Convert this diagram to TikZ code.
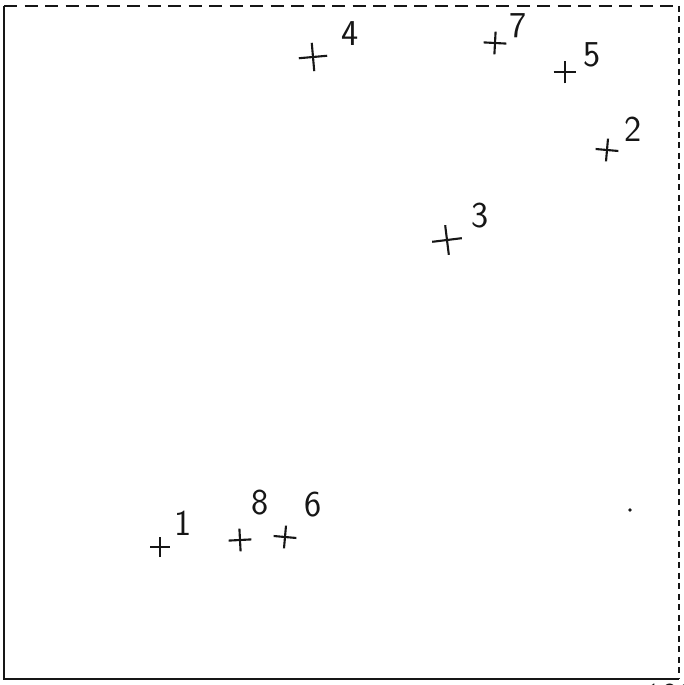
\documentclass[tikz,border=0pt]{standalone}
\usetikzlibrary{shapes.misc,positioning}
\definecolor{Ink}{HTML}{161616}
\tikzset{
 every node/.style={text=Ink},
 wall/.style={draw=Ink,line width=1.3pt},
 open/.style={draw=Ink,line width=1pt,dash pattern=on 2.6mm off 1.5mm},
 openside/.style={draw=Ink,line width=1pt,dash pattern=on 1.2mm off 0.9mm},
 pt/.style={cross out,draw=Ink,line width=1.2pt,inner sep=0pt},
 num/.style={font=\sffamily\huge,inner sep=0pt},
 }
\begin{document}
\begin{tikzpicture}[x=1cm,y=1cm]
 \useasboundingbox (0,0) rectangle (13.68,13.70);
 \coordinate (nw) at (0.08,13.58);
 \coordinate (sw) at (0.08,0.12);
 \coordinate (se) at (13.58,0.12);
 \coordinate (ne) at (13.58,13.58);
 \draw[wall] (nw) -- (sw) -- (se);
 \draw[open] (nw) -- (ne);
 \draw[openside] (ne) -- (se);
 % sample points
 \foreach \n/\x/\y/\r/\s/\lx/\ly in {4/6.26/12.56/50/3.6/7.00/13.02,
  7/9.90/12.84/42/2.8/10.36/13.18,5/11.30/12.26/45/2.8/11.84/12.60,
  2/12.14/10.70/40/2.8/12.66/11.12,3/8.94/8.90/52/3.8/9.60/9.38,
  1/3.20/2.76/45/2.4/3.66/3.24,8/4.80/2.90/48/2.8/5.20/3.64,
  6/5.70/2.96/40/2.8/6.26/3.60}{
  \node[pt,rotate=\r,minimum size=\s mm] (p\n) at (\x,\y) {};
  \node[num] (l\n) at (\lx,\ly) {\n};}
 \fill[Ink] (12.60,3.50) circle (1.1pt);
 \node[num,anchor=north] (scale) at (13.40,0.02) {100};
\end{tikzpicture}
\end{document}
